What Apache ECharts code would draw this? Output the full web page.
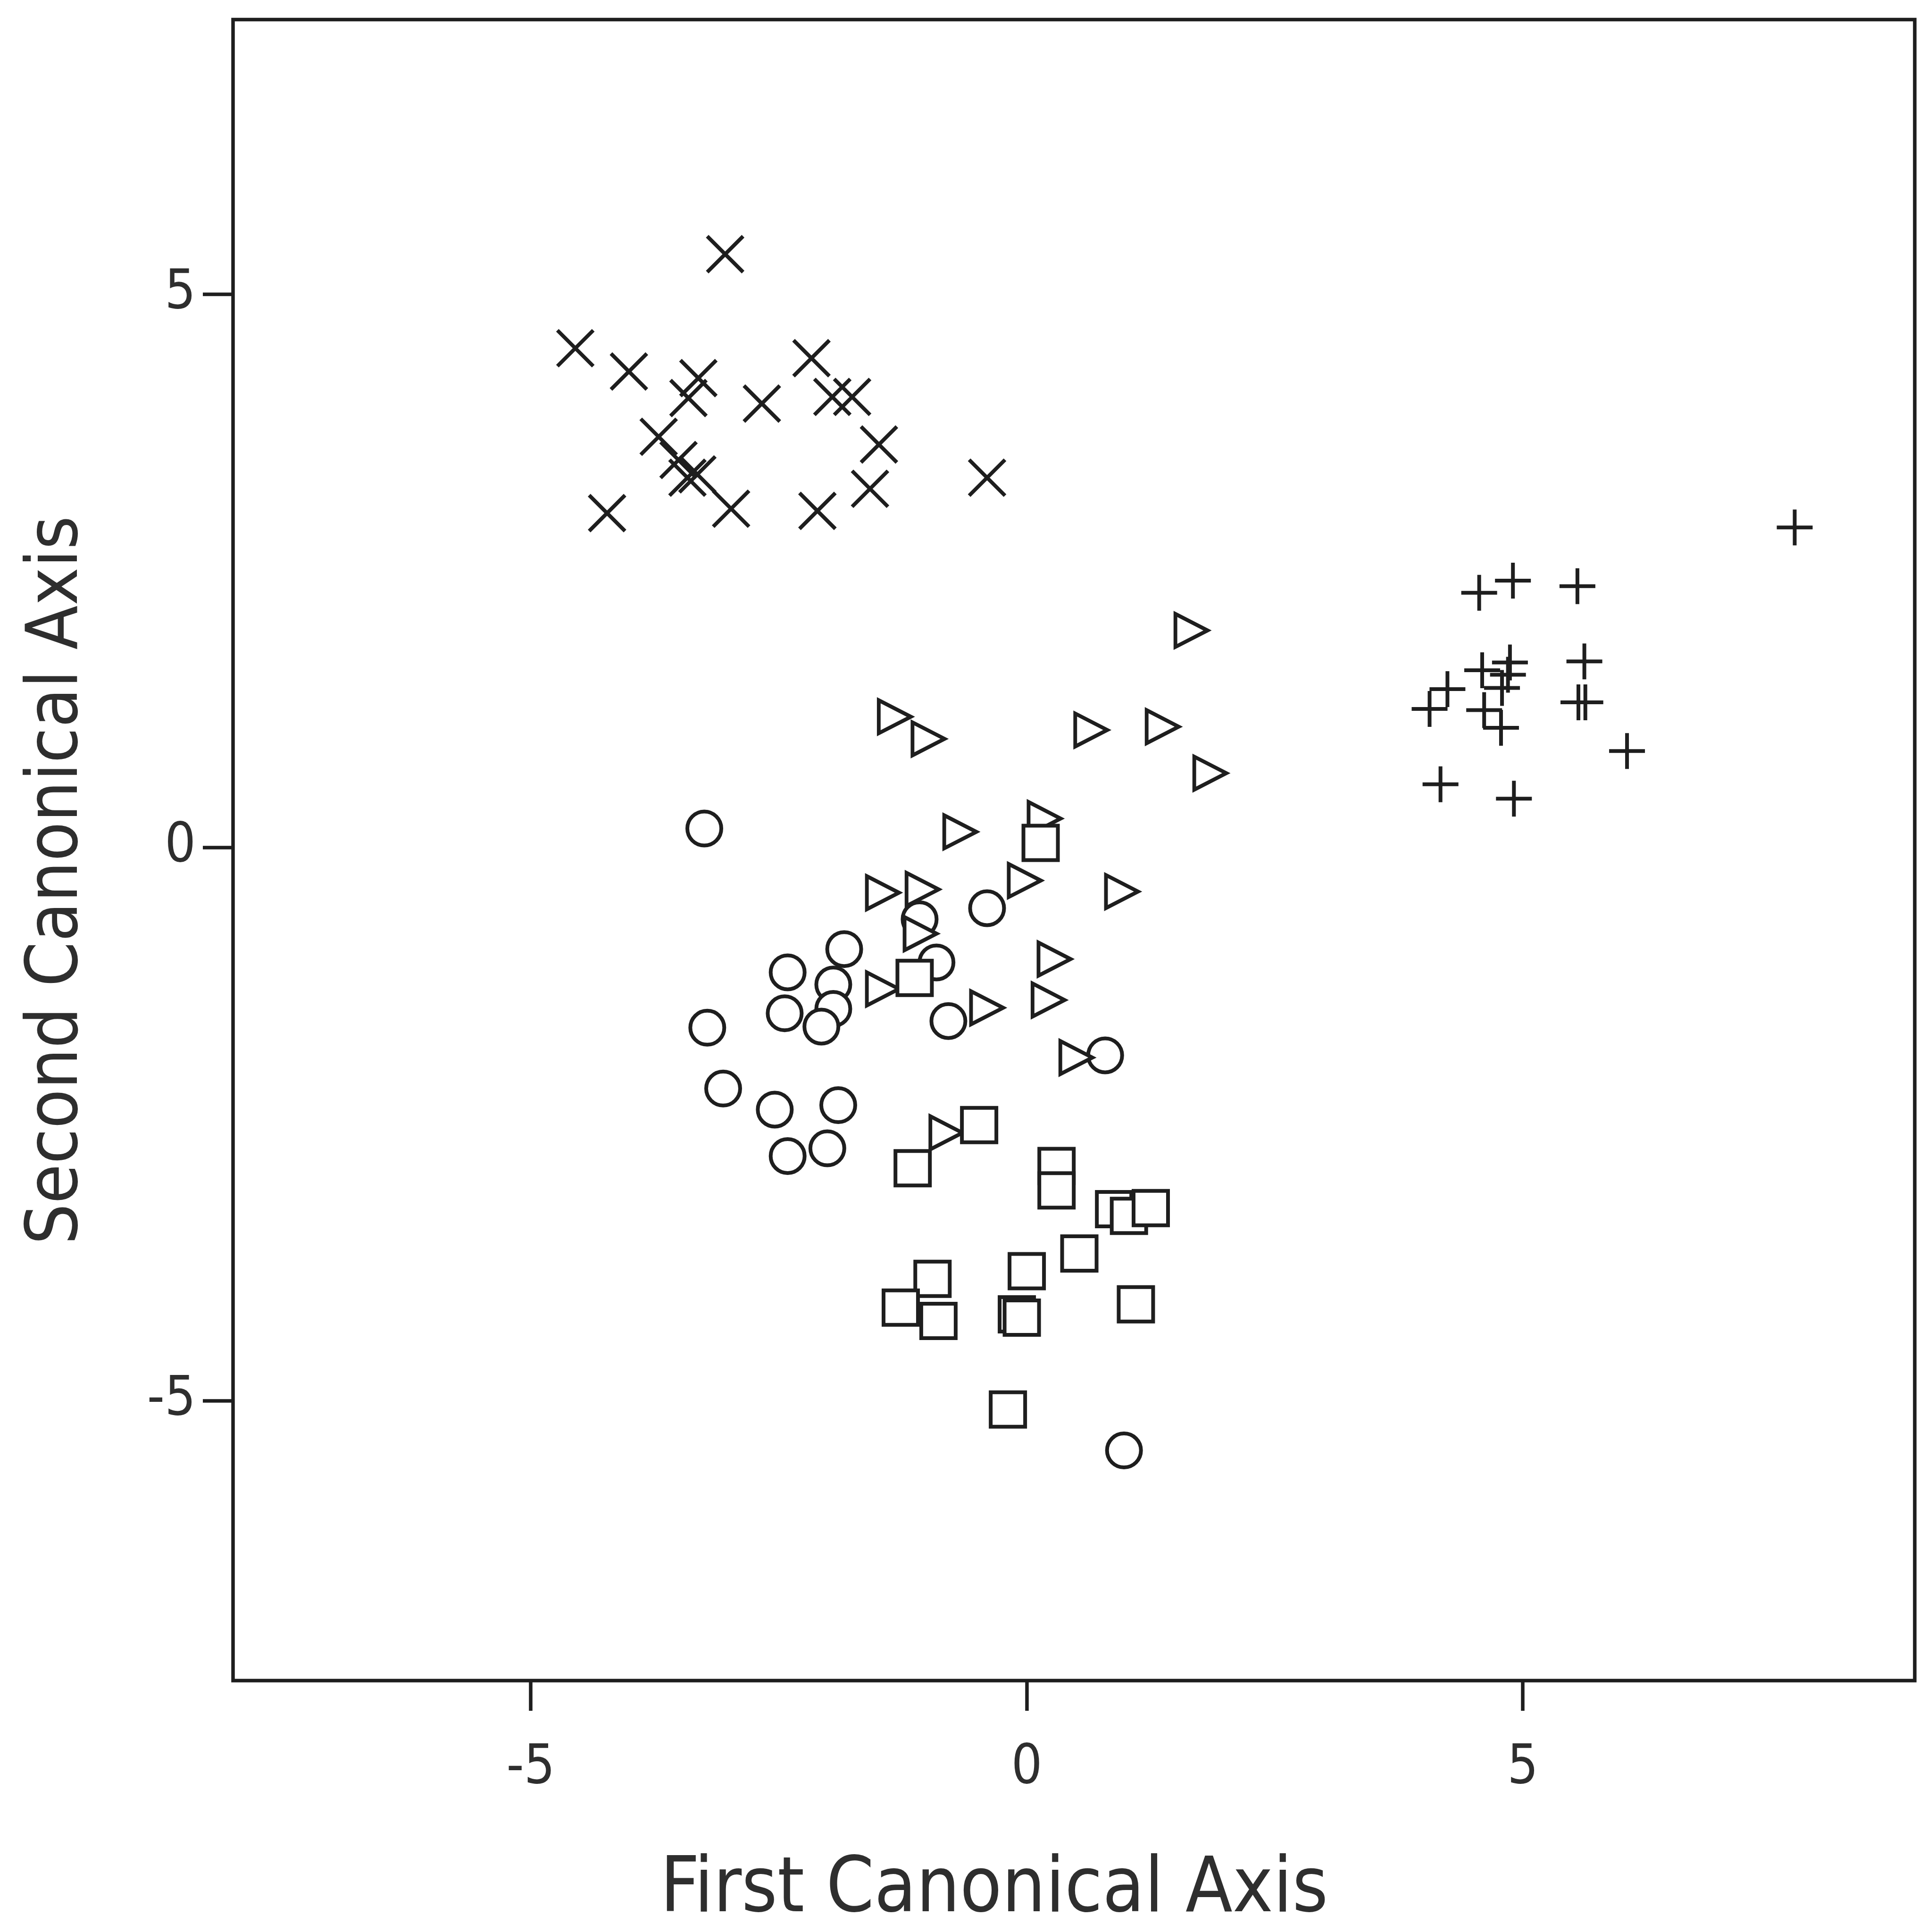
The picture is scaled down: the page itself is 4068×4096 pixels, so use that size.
<!DOCTYPE html>
<html>
<head>
<meta charset="utf-8">
<script src="https://cdn.jsdelivr.net/npm/echarts@6/dist/echarts.min.js"></script>
<style>
html,body{margin:0;padding:0;background:#fff;overflow:hidden;}
#chart{width:4068px;height:4096px;}
</style>
</head>
<body>
<div id="chart"></div>
<script>
// ---- data ----
var xTicks = [-5, 0, 5];
var yTicks = [-5, 0, 5];

var groupCross = [
  [-3.04,5.36],[-4.55,4.51],[-4.01,4.30],[-3.31,4.24],[-3.41,4.06],[-2.67,4.01],
  [-3.71,3.71],[-3.51,3.50],[-3.42,3.34],[-3.32,3.37],[-4.23,3.02],[-2.98,3.06],
  [-2.17,4.42],[-1.96,4.07],[-1.76,4.07],[-1.49,3.64],[-1.58,3.24],[-2.11,3.04],
  [-0.40,3.34]
];
var groupPlus = [
  [7.74,2.89],[4.56,2.30],[4.90,2.41],[5.55,2.36],[4.24,1.43],[4.06,1.25],
  [4.59,1.60],[4.87,1.67],[4.85,1.56],[4.79,1.44],[4.61,1.24],[4.78,1.08],
  [5.62,1.68],[5.56,1.31],[5.63,1.31],[6.05,0.87],[4.17,0.57],[4.91,0.44]
];
var groupTriangle = [
  [1.66,1.96],[-1.33,1.18],[-0.99,0.98],[0.65,1.06],[1.37,1.09],[1.85,0.67],
  [-0.67,0.14],[0.18,0.26],[-0.02,-0.30],[-1.45,-0.41],[-1.05,-0.38],[0.96,-0.40],
  [-1.07,-0.78],[-1.45,-1.28],[0.28,-1.01],[0.22,-1.38],[-0.40,-1.45],[0.50,-1.90],
  [-0.81,-2.58]
];
var groupCircle = [
  [-3.25,0.17],[-0.40,-0.55],[-1.84,-0.92],[-2.41,-1.13],[-1.95,-1.24],[-2.44,-1.50],
  [-1.95,-1.46],[-2.07,-1.62],[-3.22,-1.63],[-0.79,-1.57],[-3.06,-2.18],[-2.54,-2.37],
  [-1.90,-2.33],[-2.41,-2.79],[-2.01,-2.72],[0.79,-1.88],[0.98,-5.45],[-1.08,-0.65],
  [-0.91,-1.04]
];
var groupSquare = [
  [0.14,0.04],[-1.13,-1.18],[-1.15,-2.90],[-0.48,-2.51],[0.30,-2.88],[0.30,-3.10],
  [0.88,-3.27],[1.03,-3.33],[1.25,-3.26],[0.53,-3.67],[0.00,-3.83],[-0.10,-4.22],
  [-0.05,-4.25],[1.10,-4.13],[-0.19,-5.08],[-0.95,-3.90],[-1.27,-4.16],[-0.89,-4.28]
];

// ---- styling ----
var INK = '#1e1e1e';
var TXT = '#2e2e2e';
var FONT = "'DejaVu Sans Condensed', 'DejaVu Sans', sans-serif";
var SW = 8;
var FRAME = 7.5;

var chart = echarts.init(document.getElementById('chart'), null, {renderer: 'canvas'});

function hollow(symbol, size, data, rotate) {
  return {
    type: 'scatter',
    data: data,
    symbol: symbol,
    symbolSize: size,
    symbolRotate: rotate || 0,
    itemStyle: {color: '#ffffff', borderColor: INK, borderWidth: SW, opacity: 1},
    emphasis: {disabled: true},
    silent: true
  };
}
function stroke(path, size, data) {
  return {
    type: 'scatter',
    data: data,
    symbol: path,
    symbolSize: size,
    itemStyle: {color: 'none', borderColor: INK, borderWidth: SW, borderCap: 'butt', opacity: 1},
    emphasis: {disabled: true},
    silent: true
  };
}

var option = {
  animation: false,
  backgroundColor: '#ffffff',
  grid: {
    left: 494, top: 41.5, width: 3565, height: 3550.5,
    show: true, borderColor: INK, borderWidth: FRAME, backgroundColor: 'transparent',
    containLabel: false
  },
  xAxis: {
    type: 'value', min: -8, max: 8.95,
    splitLine: {show: false},
    axisLine: {show: false, onZero: false},
    axisTick: {show: true, inside: false, length: 64, lineStyle: {color: INK, width: FRAME}, customValues: xTicks},
    axisLabel: {show: true, customValues: xTicks, margin: 130, fontSize: 115, fontFamily: FONT, color: TXT},
    name: 'First Canonical Axis',
    nameLocation: 'middle',
    nameGap: 366,
    nameTextStyle: {fontSize: 162, fontFamily: FONT, color: TXT, padding: [0, 338, 0, 0]}
  },
  yAxis: {
    type: 'value', min: -7.53, max: 7.48,
    splitLine: {show: false},
    axisLine: {show: false, onZero: false},
    axisTick: {show: true, inside: false, length: 64, lineStyle: {color: INK, width: FRAME}, customValues: yTicks},
    axisLabel: {show: true, customValues: yTicks, margin: 79, fontSize: 115, fontFamily: FONT, color: TXT},
    name: 'Second Canonical Axis',
    nameLocation: 'middle',
    nameGap: 294,
    nameTextStyle: {fontSize: 152, fontFamily: FONT, color: TXT, padding: [0, 128, 0, 0]}
  },
  series: [
    hollow('circle', 72, groupCircle),
    hollow('triangle', [70, 68], groupTriangle, -90),
    hollow('rect', 73, groupSquare),
    stroke('path://M0,0L10,10M10,0L0,10', 76, groupCross),
    stroke('path://M5,0L5,10M0,5L10,5', 76, groupPlus)
  ]
};
chart.setOption(option);
</script>
</body>
</html>
